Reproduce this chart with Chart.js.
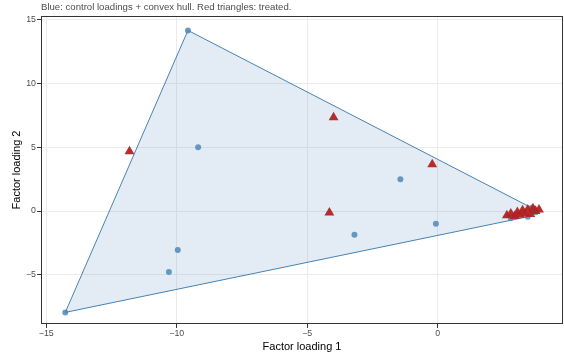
<!DOCTYPE html>
<html>
<head>
<meta charset="utf-8">
<script src="https://cdn.jsdelivr.net/npm/chart.js@4"></script>
<style>
  html, body { margin: 0; padding: 0; background: #fff; }
  #wrap { width: 564px; height: 356px; position: relative; }
</style>
</head>
<body>
<div id="wrap"><canvas id="c" width="564" height="356"></canvas></div>
<script>
// Control group factor loadings
const controlX = [-14.27, -9.57, -9.18, -9.96, -10.3, -3.19, -1.43, -0.07, 2.8, 3.0, 3.3, 3.45, 3.6, 3.75];
const controlY = [-7.95, 14.17, 5.0, -3.06, -4.78, -1.86, 2.49, -1.0, -0.55, -0.25, -0.05, -0.45, 0.25, -0.1];

// Treated group factor loadings
const treatedX = [-11.81, -3.99, -4.15, -0.21, 2.65, 2.8, 2.95, 3.05, 3.15, 3.25, 3.35, 3.45, 3.55, 3.65, 3.75, 3.88];
const treatedY = [4.67, 7.35, -0.13, 3.66, -0.35, -0.2, -0.4, -0.1, -0.3, 0.05, -0.2, 0.1, -0.25, 0.2, 0.0, 0.1];

// Axis ticks
const xTicks = [-15, -10, -5, 0];
const yTicks = [-5, 0, 5, 10, 15];

const subtitle = 'Blue: control loadings + convex hull. Red triangles: treated.';

function toPoints(xs, ys) { return xs.map((x, i) => ({ x: x, y: ys[i] })); }

// Monotone-chain convex hull, returned as a closed ring
function convexHull(pts) {
  const p = pts.slice().sort((a, b) => a.x - b.x || a.y - b.y);
  const cross = (o, a, b) => (a.x - o.x) * (b.y - o.y) - (a.y - o.y) * (b.x - o.x);
  const lower = [];
  for (const q of p) {
    while (lower.length >= 2 && cross(lower[lower.length - 2], lower[lower.length - 1], q) <= 0) lower.pop();
    lower.push(q);
  }
  const upper = [];
  for (let i = p.length - 1; i >= 0; i--) {
    const q = p[i];
    while (upper.length >= 2 && cross(upper[upper.length - 2], upper[upper.length - 1], q) <= 0) upper.pop();
    upper.push(q);
  }
  upper.pop(); lower.pop();
  const ring = lower.concat(upper);
  ring.push(ring[0]);
  return ring;
}

const controlPts = toPoints(controlX, controlY);
const treatedPts = toPoints(treatedX, treatedY);
const hull = convexHull(controlPts);

const minus = v => String(v).replace('-', '\u2212');

// Panel frame and subtitle
const panelDecor = {
  id: 'panelDecor',
  afterDraw(chart) {
    const { ctx, chartArea: a } = chart;
    ctx.save();
    ctx.strokeStyle = '#333333';
    ctx.lineWidth = 1;
    ctx.strokeRect(a.left + 0.5, a.top + 0.5, a.right - a.left - 1, a.bottom - a.top - 1);
    ctx.fillStyle = '#4d4d4d';
    ctx.font = '9.6px "Liberation Sans", Arial, sans-serif';
    ctx.textBaseline = 'alphabetic';
    ctx.textAlign = 'left';
    ctx.fillText(subtitle, a.left, 10);
    ctx.restore();
  }
};

new Chart(document.getElementById('c'), {
  type: 'scatter',
  data: {
    datasets: [
      {
        label: 'treated',
        data: treatedPts,
        pointStyle: 'triangle',
        pointRadius: 5.7,
        pointBackgroundColor: 'rgba(178,34,34,0.95)',
        pointBorderWidth: 0,
        order: 0
      },
      {
        label: 'control',
        data: controlPts,
        pointStyle: 'circle',
        pointRadius: 3,
        pointBackgroundColor: 'rgba(70,130,180,0.8)',
        pointBorderWidth: 0,
        order: 1
      },
      {
        label: 'hull',
        data: hull,
        showLine: true,
        fill: 'shape',
        backgroundColor: 'rgba(70,130,180,0.15)',
        borderColor: '#4682B4',
        borderWidth: 1,
        pointRadius: 0,
        tension: 0,
        order: 2
      }
    ]
  },
  options: {
    responsive: false,
    animation: false,
    events: [],
    layout: { autoPadding: false, padding: { top: 16, right: 1, bottom: 0, left: 0 } },
    plugins: {
      legend: { display: false },
      tooltip: { enabled: false },
      title: { display: false }
    },
    scales: {
      x: {
        type: 'linear',
        min: -15.2,
        max: 4.8,
        afterBuildTicks: s => { s.ticks = xTicks.map(v => ({ value: v })); },
        afterFit: s => { s.height = 32; },
        border: { display: false },
        grid: { color: '#ebebeb', lineWidth: 1, tickColor: '#333333', tickLength: 4, tickWidth: 1 },
        ticks: {
          color: '#4d4d4d',
          font: { family: '"Liberation Sans", Arial, sans-serif', size: 8.8 },
          padding: 0,
          maxRotation: 0,
          callback: v => minus(v)
        },
        title: {
          display: true,
          text: 'Factor loading 1',
          color: '#000000',
          font: { family: '"Liberation Sans", Arial, sans-serif', size: 11 },
          padding: { top: 0, bottom: 2.5 }
        }
      },
      y: {
        type: 'linear',
        min: -8.86,
        max: 15.3,
        afterBuildTicks: s => { s.ticks = yTicks.map(v => ({ value: v })); },
        afterFit: s => { s.width = 41; },
        border: { display: false },
        grid: { color: '#ebebeb', lineWidth: 1, tickColor: '#333333', tickLength: 4, tickWidth: 1 },
        ticks: {
          color: '#4d4d4d',
          font: { family: '"Liberation Sans", Arial, sans-serif', size: 8.8 },
          padding: 1,
          callback: v => minus(v)
        },
        title: {
          display: true,
          text: 'Factor loading 2',
          color: '#000000',
          font: { family: '"Liberation Sans", Arial, sans-serif', size: 11 },
          padding: { top: 10.4, bottom: 0 }
        }
      }
    }
  },
  plugins: [panelDecor]
});
</script>
</body>
</html>
